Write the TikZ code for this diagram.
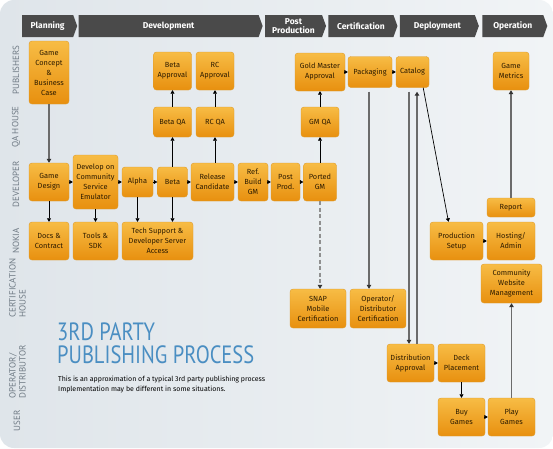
\documentclass[tikz,border=0pt]{standalone}
\usepackage{fontspec}
\setmainfont{Fira Sans}
\newfontfamily\titlefont[FakeStretch=0.82]{PT Sans}
\newfontfamily\lanefont{PT Sans}
\usetikzlibrary{arrows.meta,shapes.symbols,positioning}

\definecolor{panelL}{HTML}{DFE5EA}
\definecolor{panelR}{HTML}{F1F4F6}
\definecolor{headbar}{HTML}{4A4A4A}
\definecolor{boxtop}{HTML}{F7BC45}
\definecolor{boxbot}{HTML}{E8900F}
\definecolor{boxline}{HTML}{DE9A2A}
\definecolor{boxtext}{HTML}{2E1C00}
\definecolor{lanegray}{HTML}{6F7A84}
\definecolor{titleblue}{HTML}{4A8EC2}
\definecolor{linkgray}{HTML}{6B6B6B}

\begin{document}
\begin{tikzpicture}[x=1pt, y=-1pt,
    task/.style={rectangle, rounded corners=3pt, top color=boxtop, bottom color=boxbot,
      draw=boxline, line width=0.4pt, align=center, text=boxtext,
      font=\fontsize{7.4}{10}\selectfont, inner sep=1pt},
    wh/.style 2 args={minimum width=#1, minimum height=#2},
    phase/.style={signal, signal to=east, signal pointer angle=140, fill=headbar,
      text=white, font=\bfseries\fontsize{8.5}{9}\selectfont, minimum height=22,
      inner sep=1pt, align=center},
    lane/.style={rotate=90, text=lanegray, font=\lanefont\fontsize{9}{10}\selectfont, inner sep=0pt},
    heading/.style={anchor=north west, inner sep=0pt, text=titleblue,
      font=\titlefont\fontsize{25}{22}\selectfont},
    flow/.style={-{Triangle[length=3.5pt,width=4pt]}, line width=0.7pt, black},
    link/.style={-{Triangle[length=4pt,width=4.5pt,color=black!80]}, line width=1.1pt, linkgray}]
    \useasboundingbox (0,0) rectangle (553,448);
    % Background
    \fill[white] (0,0) rectangle (553,448);
    \shade[left color=panelL, right color=panelR, rounded corners=14] (0,0) rectangle (553,448);

    % Phases
    \node[phase, minimum width=55, anchor=west] (hplan) at (22,26) {Planning};
    \node[phase, minimum width=184, right=1pt of hplan] (hdev) {Development};
    \node[phase, minimum width=61, right=2pt of hdev] (hpost) {Post\\Production};
    \node[phase, minimum width=69, right=2pt of hpost] (hcert) {Certification};
    \node[phase, minimum width=79, right=2pt of hcert] (hdeploy) {Deployment};
    \node[phase, minimum width=65, right=3pt of hdeploy] (hop) {Operation};

    % Lanes
    \node[lane] (lpub) at (16,70) {PUBLISHERS};
    \node[lane] (lqa) at (16,127) {QA HOUSE};
    \node[lane] (ldev) at (16,184) {DEVELOPER};
    \node[lane] (lnokia) at (16,241) {NOKIA};
    \node[lane, anchor=west, align=left] (lcert) at (17.5,318) {CERTIFICATION\\HOUSE};
    \node[lane, anchor=west, align=left] (lop) at (17.5,399) {OPERATOR/\\DISTRIBUTOR};
    \node[lane] (luser) at (17,421) {USER};

    % Title
    \node[heading] (title) at (57,323) {3RD PARTY};
    \node[heading] (subtitle) at (57,345) {PUBLISHING PROCESS};
    \node[anchor=north west, align=left, inner sep=0pt,
      font=\fontsize{7}{10}\selectfont] (note) at (58,376)
      {This is an approximation of a typical 3rd party publishing process\\Implementation may be different in some situations.};

    % Nodes
    \node[task, wh={40}{63}] (concept) at (49,72.5) {Game\\Concept\\\&\\Business\\Case};
    \node[task, wh={38}{38}] (betaok) at (172.5,71) {Beta\\Approval};
    \node[task, wh={38}{38}] (rcok) at (215,71) {RC\\Approval};
    \node[task, wh={38}{30}] (betaqa) at (172.5,122) {Beta QA};
    \node[task, wh={38}{30}] (rcqa) at (215,122) {RC QA};
    \node[task, wh={50}{38}] (gmok) at (320,72) {Gold Master\\Approval};
    \node[task, wh={44}{31}] (packaging) at (370,72) {Packaging};
    \node[task, wh={33}{31}] (catalog) at (412.5,72) {Catalog};
    \node[task, wh={36}{38}] (metrics) at (511,71) {Game\\Metrics};
    \node[task, wh={38}{30}] (gmqa) at (320,122) {GM QA};

    \node[task, wh={40}{38}] (design) at (49,182) {Game\\Design};
    \node[task, wh={45}{54}] (emulator) at (95.5,182) {Develop on\\Community\\Service\\Emulator};
    \node[task, wh={31}{30}] (alpha) at (137.5,182) {Alpha};
    \node[task, wh={30}{30}] (beta) at (172.5,182) {Beta};
    \node[task, wh={43}{38}] (rc) at (212.5,182) {Release\\Candidate};
    \node[task, wh={30}{38}] (refgm) at (253,182) {Ref.\\Build\\GM};
    \node[task, wh={29}{38}] (postprod) at (285.5,182) {Post\\Prod.};
    \node[task, wh={33}{38}] (portedgm) at (320,182) {Ported\\GM};

    \node[task, wh={40}{38}] (docs) at (49,241) {Docs \&\\Contract};
    \node[task, wh={45}{38}] (tools) at (95.5,241) {Tools \&\\SDK};
    \node[task, wh={71}{38}] (support) at (157.5,241) {Tech Support \&\\Developer Server\\Access};

    \node[task, wh={48}{19}] (report) at (511,207.5) {Report};
    \node[task, wh={53}{38}] (prodsetup) at (456.5,241) {Production\\Setup};
    \node[task, wh={48}{38}] (hosting) at (511,241) {Hosting/\\Admin};
    \node[task, wh={61}{39}] (community) at (511.5,283.5) {Community\\Website\\Management};
    \node[task, wh={56}{39}] (snapcert) at (318,308.5) {SNAP\\Mobile\\Certification};
    \node[task, wh={56}{39}] (opcert) at (378,308.5) {Operator/\\Distributor\\Certification};

    \node[task, wh={47}{38}] (distok) at (410.5,363) {Distribution\\Approval};
    \node[task, wh={47}{38}] (deck) at (461.5,363) {Deck\\Placement};
    \node[task, wh={47}{38}] (buy) at (461.5,417) {Buy\\Games};
    \node[task, wh={47}{38}] (play) at (511.5,417) {Play\\Games};

    % Arrows
    \draw[link] (concept) -- (design);
    \draw[flow] (design) -- (emulator);
    \draw[flow] (emulator) -- (alpha);
    \draw[flow] (alpha) -- (beta);
    \draw[flow] (beta) -- (rc);
    \draw[flow] (rc) -- (refgm);
    \draw[flow] (refgm) -- (postprod);
    \draw[flow] (postprod) -- (portedgm);
    \draw[flow] (design) -- (docs);
    \draw[flow] (emulator) -- (tools);
    \draw[flow] (alpha) -- (alpha |- support.north);
    \draw[flow] (beta) -- (beta |- support.north);
    \draw[flow] (beta) -- (betaqa);
    \draw[flow] (betaqa) -- (betaok);
    \draw[flow] (rc.north -| rcqa) -- (rcqa);
    \draw[flow] (rcqa) -- (rcok);
    \draw[flow] (portedgm) -- (gmqa);
    \draw[flow] (gmqa) -- (gmok);
    \draw[link, dashed, dash pattern=on 4pt off 2.5pt, linkgray!75] (portedgm) -- (portedgm |- snapcert.north);
    \draw[flow] (gmok) -- (packaging);
    \draw[flow] (packaging) -- (catalog);
    \draw[link] ([xshift=-1pt,yshift=-4pt]packaging.south) -- ([xshift=-1pt]packaging.south |- opcert.north);
    \draw[link] ([xshift=-3.5pt,yshift=-4pt]catalog.south) -- ([xshift=-3.5pt]catalog.south |- distok.north);
    \draw[link] ([xshift=4.5pt]catalog.south |- distok.north) -- ([xshift=4.5pt,yshift=-4pt]catalog.south);
    \draw[flow] ([xshift=-6pt]catalog.south east) -- ([xshift=-8pt]prodsetup.north);
    \draw[flow] (prodsetup) -- (hosting);
    \draw[link] (report) -- (metrics);
    \draw[link] (play) -- (community);
    \draw[flow] (distok) -- (deck);
    \draw[flow] (deck) -- (buy);
    \draw[flow] (buy) -- (play);
\end{tikzpicture}
\end{document}
